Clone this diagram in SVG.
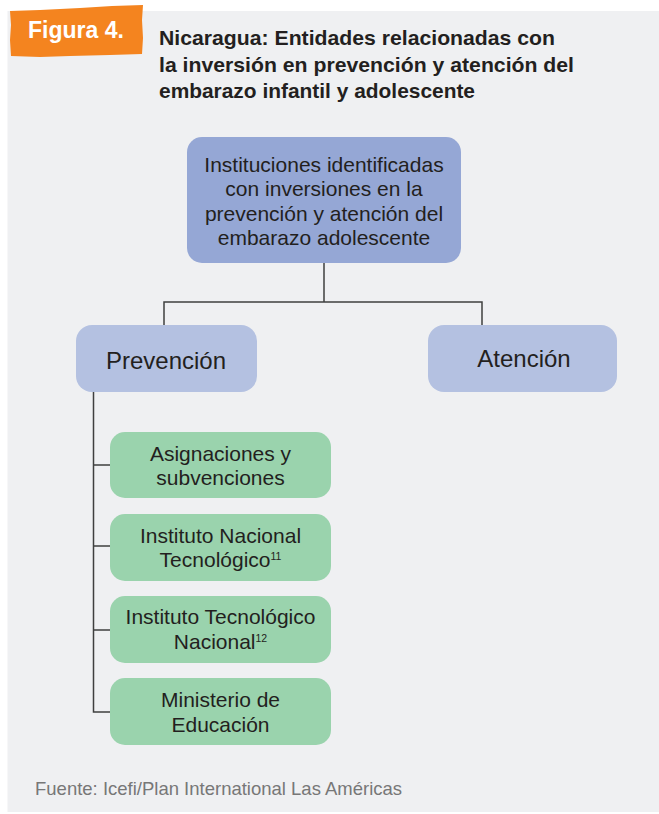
<svg xmlns="http://www.w3.org/2000/svg" width="659" height="814" viewBox="0 0 659 814">
  <style>
    .t { font-family: "Liberation Sans", Arial, sans-serif; fill: #231f20; }
    .title { font-family: "Liberation Sans", Arial, sans-serif; font-weight: bold; font-size: 21px; fill: #231f20; }
    .box-main { fill: #95a7d5; }
    .box-sub { fill: #b4c1e1; }
    .box-green { fill: #9ad3ad; }
    .conn { stroke: #3f3f3f; stroke-width: 1.5; fill: none; }
    .lbl { font-size: 21px; text-anchor: middle; }
    .sup { font-size: 10.5px; }
  </style>
  <rect x="0" y="0" width="659" height="814" fill="#ffffff"/>
  <rect x="7.5" y="11" width="651.5" height="801" fill="#eff0f2"/>

  <g id="badge">
    <path d="M10,11 L40,10 L80,8 L112,6 L143,5 L142,20 L143,38 L142,54 L110,55 L70,56 L40,57 L11,56 L10,40 L11,25 Z" fill="#f4841f"/>
    <text x="28" y="37.5" font-family="'Liberation Sans', Arial, sans-serif" font-weight="bold" font-size="23" fill="#ffffff">Figura 4.</text>
  </g>

  <g id="title">
    <text class="title" x="159" y="45" textLength="396" lengthAdjust="spacingAndGlyphs">Nicaragua: Entidades relacionadas con</text>
    <text class="title" x="159" y="71.5" textLength="415" lengthAdjust="spacingAndGlyphs">la inversión en prevención y atención del</text>
    <text class="title" x="159" y="97.5" textLength="316" lengthAdjust="spacingAndGlyphs">embarazo infantil y adolescente</text>
  </g>

  <g id="connectors">
    <path class="conn" d="M324,263 V302 M164,302 H482 M164,301.25 V325 M482,301.25 V325"/>
    <path class="conn" d="M93.5,392 V712.75 M93.5,465 H110 M93.5,546 H110 M93.5,630 H110 M92.75,712 H110"/>
  </g>

  <g id="node-instituciones">
    <rect class="box-main" x="187" y="137" width="274" height="126" rx="15"/>
    <text class="t lbl" x="324" y="171.5">Instituciones identificadas</text>
    <text class="t lbl" x="324" y="196">con inversiones en la</text>
    <text class="t lbl" x="324" y="220.5">prevención y atención del</text>
    <text class="t lbl" x="324" y="244.5">embarazo adolescente</text>
  </g>

  <g id="node-prevencion">
    <rect class="box-sub" x="76" y="325" width="181" height="67" rx="16"/>
    <text class="t" x="166" y="369" font-size="24" text-anchor="middle">Prevención</text>
  </g>

  <g id="node-atencion">
    <rect class="box-sub" x="428" y="325" width="189" height="67" rx="16"/>
    <text class="t" x="524" y="367" font-size="24" text-anchor="middle">Atención</text>
  </g>

  <g id="node-asignaciones">
    <rect class="box-green" x="110" y="432" width="221" height="66" rx="15"/>
    <text class="t lbl" x="220.5" y="461">Asignaciones y</text>
    <text class="t lbl" x="220.5" y="484.5">subvenciones</text>
  </g>

  <g id="node-inatec">
    <rect class="box-green" x="110" y="514" width="221" height="67" rx="15"/>
    <text class="t lbl" x="220.5" y="542.5">Instituto Nacional</text>
    <text class="t lbl" x="220.5" y="566.5">Tecnológico<tspan class="sup" dy="-7">11</tspan></text>
  </g>

  <g id="node-itn">
    <rect class="box-green" x="110" y="596" width="221" height="67" rx="15"/>
    <text class="t lbl" x="220.5" y="624">Instituto Tecnológico</text>
    <text class="t lbl" x="220.5" y="648.5">Nacional<tspan class="sup" dy="-7">12</tspan></text>
  </g>

  <g id="node-mined">
    <rect class="box-green" x="110" y="678" width="221" height="67" rx="15"/>
    <text class="t lbl" x="220.5" y="707">Ministerio de</text>
    <text class="t lbl" x="220.5" y="731.5">Educación</text>
  </g>

  <text x="35" y="795" font-family="'Liberation Sans', Arial, sans-serif" font-size="18.5" fill="#777777">Fuente: Icefi/Plan International Las Américas</text>
</svg>
